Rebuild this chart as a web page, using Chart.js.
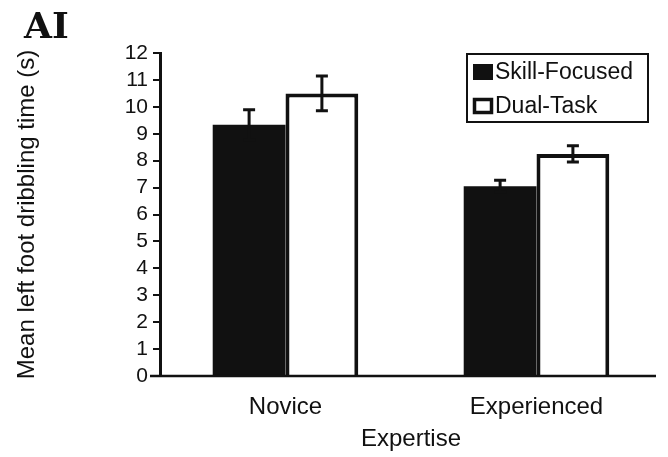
<!DOCTYPE html>
<html>
<head>
<meta charset="utf-8">
<script src="https://cdn.jsdelivr.net/npm/chart.js@4.4.1/dist/chart.umd.min.js"></script>
<style>
  html, body { margin: 0; padding: 0; background: #fff; }
  #wrap { position: relative; width: 668px; height: 457px; }
  #panel {
    position: absolute; left: 24px; top: 4px;
    font: bold 36px "DejaVu Serif", serif; color: #111;
  }
</style>
</head>
<body>
<div id="wrap">
  <canvas id="chart" width="668" height="457"></canvas>
  <div id="panel">AI</div>
</div>
<script>
const categories = ['Novice', 'Experienced'];
const skillFocused = [9.33, 7.05];
const skillFocusedErr = [0.56, 0.22];
const dualTask = [10.5, 8.25];
const dualTaskErr = [0.65, 0.3];
const yTicks = [0, 1, 2, 3, 4, 5, 6, 7, 8, 9, 10, 11, 12];

const FONT = '"Liberation Sans", Arial, sans-serif';
const INK = '#111';

// error bars drawn on top of the bars
const errorBars = {
  id: 'errorBars',
  afterDatasetsDraw(chart) {
    const ctx = chart.ctx;
    const y = chart.scales.y;
    const errs = [skillFocusedErr, dualTaskErr];
    ctx.save();
    ctx.strokeStyle = INK;
    ctx.lineWidth = 3;
    chart.data.datasets.forEach((ds, di) => {
      chart.getDatasetMeta(di).data.forEach((bar, i) => {
        const v = ds.data[i], e = errs[di][i];
        const top = y.getPixelForValue(v + e);
        const bot = y.getPixelForValue(v - e);
        ctx.beginPath();
        ctx.moveTo(bar.x, top); ctx.lineTo(bar.x, bot);
        ctx.moveTo(bar.x - 6, top); ctx.lineTo(bar.x + 6, top);
        ctx.moveTo(bar.x - 6, bot); ctx.lineTo(bar.x + 6, bot);
        ctx.stroke();
      });
    });
    ctx.restore();
  }
};

// x axis line (runs a bit left of the y axis) and the boxed legend
const extras = {
  id: 'extras',
  afterDraw(chart) {
    const ctx = chart.ctx;
    const a = chart.chartArea;
    ctx.save();
    ctx.strokeStyle = INK;
    ctx.lineWidth = 2.5;
    ctx.beginPath();
    ctx.moveTo(150, a.bottom);
    ctx.lineTo(656, a.bottom);
    ctx.stroke();

    // legend
    ctx.lineWidth = 2;
    ctx.strokeRect(467, 54, 181, 68);
    ctx.font = '23px ' + FONT;
    ctx.fillStyle = INK;
    ctx.textBaseline = 'middle';
    const rows = [72, 106];
    chart.data.datasets.forEach((ds, i) => {
      const cy = rows[i];
      if (i === 0) {
        ctx.fillRect(473, cy - 8, 20, 16);
      } else {
        ctx.lineWidth = 3.5;
        ctx.strokeRect(474.5, cy - 6.5, 17, 13);
      }
      ctx.fillText(ds.label, 495, cy + 1);
    });
    ctx.restore();
  }
};

new Chart(document.getElementById('chart'), {
  type: 'bar',
  data: {
    labels: categories,
    datasets: [
      {
        label: 'Skill-Focused',
        data: skillFocused,
        backgroundColor: INK,
        borderWidth: 0
      },
      {
        label: 'Dual-Task',
        data: dualTask,
        backgroundColor: '#fff',
        borderColor: INK,
        borderWidth: 4
      }
    ]
  },
  options: {
    responsive: false,
    animation: false,
    layout: { padding: { top: 53, right: 6, bottom: 0, left: 0 } },
    datasets: { bar: { barPercentage: 1, categoryPercentage: 0.58 } },
    plugins: { legend: { display: false }, tooltip: { enabled: false } },
    scales: {
      x: {
        grid: { display: false, drawTicks: false },
        border: { display: false },
        ticks: { color: INK, font: { family: FONT, size: 24 }, padding: 17 },
        title: {
          display: true, text: 'Expertise', color: INK,
          font: { family: FONT, size: 24 }, padding: { top: 0, bottom: 3 }
        },
        afterFit(s) { s.height = 81; }
      },
      y: {
        min: 0, max: 12,
        afterBuildTicks(s) { s.ticks = yTicks.map(v => ({ value: v })); },
        grid: {
          drawOnChartArea: false, drawTicks: true, tickLength: 7,
          color: INK, lineWidth: 2
        },
        border: { display: true, color: INK, width: 3 },
        ticks: { color: INK, font: { family: FONT, size: 21 }, padding: 5, autoSkip: false },
        title: {
          display: true, text: 'Mean left foot dribbling time (s)', color: INK,
          font: { family: FONT, size: 24 }, padding: { top: 13, bottom: 0 }
        },
        afterFit(s) { s.width = 160; }
      }
    }
  },
  plugins: [errorBars, extras]
});
</script>
</body>
</html>
